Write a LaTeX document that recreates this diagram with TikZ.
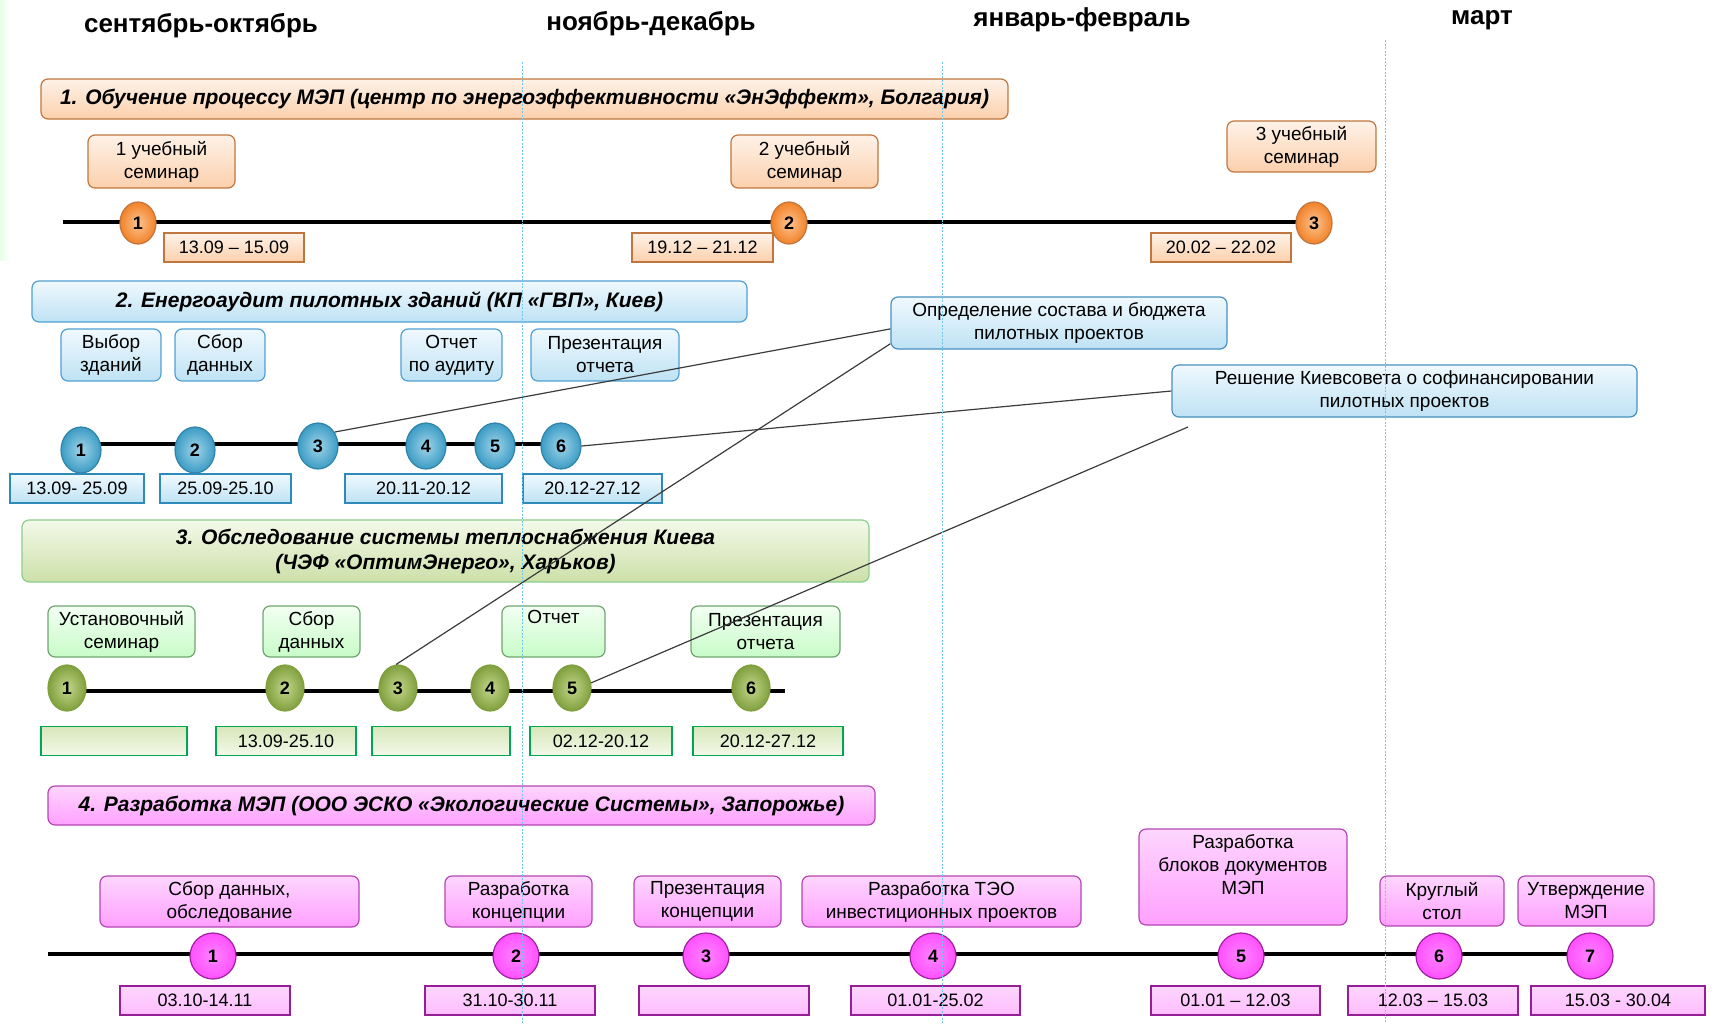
\documentclass[tikz,border=0pt]{standalone}
\usepackage{fontspec}
\setmainfont{Liberation Sans}
\usepackage{xcolor}
\usetikzlibrary{shapes.geometric}

\definecolor{orBord}{RGB}{192,118,62}
\definecolor{orTop}{RGB}{254,242,232}
\definecolor{orBot}{RGB}{251,208,172}
\definecolor{orBall}{RGB}{242,130,40}
\definecolor{orBallIn}{RGB}{252,196,146}
\definecolor{blBord}{RGB}{80,160,212}
\definecolor{blTop}{RGB}{240,249,254}
\definecolor{blBot}{RGB}{190,226,244}
\definecolor{blBall}{RGB}{60,156,196}
\definecolor{blBallIn}{RGB}{160,212,234}
\definecolor{blBallBord}{RGB}{48,132,170}
\definecolor{blDate}{RGB}{46,138,184}
\definecolor{grBord}{RGB}{140,206,140}
\definecolor{grTop}{RGB}{244,249,234}
\definecolor{grBot}{RGB}{204,224,168}
\definecolor{grBoxTop}{RGB}{242,255,242}
\definecolor{grBoxBot}{RGB}{200,252,200}
\definecolor{grBall}{RGB}{128,160,62}
\definecolor{grBallIn}{RGB}{196,214,140}
\definecolor{grDate}{RGB}{0,166,81}
\definecolor{mgBord}{RGB}{180,70,180}
\definecolor{mgTop}{RGB}{253,214,253}
\definecolor{mgBot}{RGB}{255,160,255}
\definecolor{mgBall}{RGB}{255,80,255}
\definecolor{mgBallBord}{RGB}{160,30,160}
\definecolor{mgDate}{RGB}{150,30,150}
\definecolor{gridLine}{RGB}{110,200,235}
\definecolor{linkLine}{RGB}{60,60,60}

\begin{document}
\begin{tikzpicture}[x=1pt, y=-1pt,
    month/.style={font=\bfseries\fontsize{26}{30}\selectfont},
    sz/.style 2 args={minimum width=#1, minimum height=#2},
    box/.style={draw, rounded corners=7pt, align=center, inner sep=0pt, line width=1.2pt,
                font=\fontsize{19}{23}\selectfont},
    title/.style={box, font=\bfseries\itshape\fontsize{21}{25}\selectfont},
    datebox/.style={draw, align=center, inner sep=0pt, line width=1.2pt,
                minimum height=29, font=\fontsize{18}{22}\selectfont},
    ball/.style={ellipse, draw, inner sep=0pt, line width=1.2pt, shading=radial,
                font=\bfseries\fontsize{18}{22}\selectfont},
    orange/.style={draw=orBord, top color=orTop, bottom color=orBot},
    blue/.style={draw=blBord, top color=blTop, bottom color=blBot},
    green/.style={draw=grBord, top color=grTop, bottom color=grBot},
    greenbox/.style={draw=grBord!80!black, top color=grBoxTop, bottom color=grBoxBot},
    greendate/.style={draw=grDate, top color=grBot!80, bottom color=grTop},
    pink/.style={draw=mgBord, top color=mgTop, bottom color=mgBot},
    pinkdate/.style={draw=mgDate, top color=mgTop, bottom color=mgBot!70},
    timeline/.style={line width=4.5pt, black},
    link/.style={linkLine, line width=1.2pt},
    monthline/.style={gridLine, line width=0.9pt, dash pattern=on 2pt off 1.5pt}
    ]
    \useasboundingbox (0,0) rectangle (1721,1023);
    \shade[left color=green!10, right color=white] (0,0) rectangle (10,260);

    \node[month] (m1) at (201,26) {сентябрь-октябрь};
    \node[month] (m2) at (651,24) {ноябрь-декабрь};
    \node[month] (m3) at (1082,20) {январь-февраль};
    \node[month] (m4) at (1482,20) {март};

    % timelines
    \coordinate (l1) at (63,222);
    \coordinate (l1e) at (1314,222);
    \coordinate (l2) at (62,444);
    \coordinate (l2e) at (561,444);
    \coordinate (l3) at (66,691);
    \coordinate (l3e) at (785,691);
    \coordinate (l4) at (48,954);
    \coordinate (l4e) at (1592,954);
    \draw[timeline] (l1) -- (l1e);
    \draw[timeline] (l2) -- (l2e);
    \draw[timeline] (l3) -- (l3e);
    \draw[timeline] (l4) -- (l4e);

    % 1
    \node[title, orange, sz={967}{40}] (t1) at (524.5,99)
        {1. Обучение процессу МЭП (центр по энергоэффективности «ЭнЭффект», Болгария)};
    \node[box, orange, sz={147}{53}] (s11) at (161.5,161.5) {1 учебный\\семинар};
    \node[box, orange, sz={147}{53}] (s12) at (804.5,161.5) {2 учебный\\семинар};
    \node[box, orange, sz={149}{51}] (s13) at (1301.5,146.5) {3 учебный\\семинар};
    \foreach \n/\x in {1/138, 2/789, 3/1314}
        \node[ball, draw=orBord, inner color=orBallIn, outer color=orBall, sz={36}{42}] (c1\n) at (\x,223) {\n};
    \node[datebox, orange, minimum width=140] (d11) at (234,247.5) {13.09 – 15.09};
    \node[datebox, orange, minimum width=141] (d12) at (702.5,247.5) {19.12 – 21.12};
    \node[datebox, orange, minimum width=140] (d13) at (1221,247.5) {20.02 – 22.02};

    % 2
    \node[title, blue, sz={715}{41}] (t2) at (389.5,301.5)
        {2. Енергоаудит пилотных зданий (КП «ГВП», Киев)};
    \node[box, blue, sz={100}{52}] (s21) at (111,355) {Выбор\\зданий};
    \node[box, blue, sz={90}{52}] (s22) at (220,355) {Сбор\\данных};
    \node[box, blue, sz={101}{52}] (s23) at (451.5,355) {Отчет\\по аудиту};
    \node[box, blue, sz={148}{52}] (s24) at (605,355) {Презентация\\отчета};
    \foreach \n/\x/\y in {1/81/450, 2/195/450, 3/318/446, 4/426/446, 5/495/446, 6/561/446}
        \node[ball, draw=blBallBord, inner color=blBallIn, outer color=blBall, sz={40}{46}] (c2\n) at (\x,\y) {\n};
    \node[datebox, blue, draw=blDate, minimum width=134] (d21) at (77,488.5) {13.09- 25.09};
    \node[datebox, blue, draw=blDate, minimum width=131] (d22) at (225.5,488.5) {25.09-25.10};
    \node[datebox, blue, draw=blDate, minimum width=157] (d23) at (423.5,488.5) {20.11-20.12};
    \node[datebox, blue, draw=blDate, minimum width=139] (d24) at (592.5,488.5) {20.12-27.12};

    \node[box, blue, draw=blBord!90!black, sz={336}{52}] (k1) at (1059,323)
        {Определение состава и бюджета\\пилотных проектов};
    \node[box, blue, draw=blBord!90!black, sz={465}{52}] (k2) at (1404.5,391)
        {Решение Киевсовета о софинансировании\\пилотных проектов};
    \coordinate (k2foot) at (1188,427);

    % 3
    \node[title, green, sz={847}{62}] (t3) at (445.5,551)
        {3. Обследование системы теплоснабжения Киева\\(ЧЭФ «ОптимЭнерго», Харьков)};
    \node[box, greenbox, sz={147}{51}] (s31) at (121.5,631.5) {Установочный\\семинар};
    \node[box, greenbox, sz={97}{51}] (s32) at (311.5,631.5) {Сбор\\данных};
    \node[box, greenbox, sz={103}{51}] (s33) at (553.5,631.5) {Отчет\\\strut};
    \node[box, greenbox, sz={149}{51}] (s34) at (765.5,631.5) {Презентация\\отчета};
    \foreach \n/\x in {1/67, 2/285, 3/398, 4/490, 5/572, 6/751}
        \node[ball, draw=grBall, inner color=grBallIn, outer color=grBall, sz={38}{46}] (c3\n) at (\x,688) {\n};
    \node[datebox, greendate, minimum width=146] (d31) at (114,741) {};
    \node[datebox, greendate, minimum width=140] (d32) at (286,741) {13.09-25.10};
    \node[datebox, greendate, minimum width=138] (d33) at (441,741) {};
    \node[datebox, greendate, minimum width=142] (d34) at (601,741) {02.12-20.12};
    \node[datebox, greendate, minimum width=150] (d35) at (768,741) {20.12-27.12};

    % 4
    \node[title, pink, sz={827}{39}] (t4) at (461.5,805.5)
        {4. Разработка МЭП (ООО ЭСКО «Экологические Системы», Запорожье)};
    \node[box, pink, sz={259}{51}] (s41) at (229.5,901.5) {Сбор данных,\\обследование};
    \node[box, pink, sz={147}{51}] (s42) at (518.5,901.5) {Разработка\\концепции};
    \node[box, pink, sz={147}{51}] (s43) at (707.5,901.5) {Презентация\\концепции};
    \node[box, pink, sz={279}{51}] (s44) at (941.5,901.5) {Разработка ТЭО\\инвестиционных проектов};
    \node[box, pink, sz={208}{96}] (s45) at (1243,877) {Разработка\\блоков документов\\МЭП\\[2pt]~};
    \node[box, pink, sz={124}{50}] (s46) at (1442,901) {Круглый\\стол};
    \node[box, pink, sz={136}{50}] (s47) at (1586,901) {Утверждение\\МЭП};
    \foreach \n/\x in {1/213, 2/516, 3/706, 4/933, 5/1241, 6/1439, 7/1590}
        \node[ball, draw=mgBallBord, inner color=mgBall!70, outer color=mgBall, sz={46}{46}] (c4\n) at (\x,956) {\n};
    \node[datebox, pinkdate, minimum width=170] (d41) at (205,1000.5) {03.10-14.11};
    \node[datebox, pinkdate, minimum width=170] (d42) at (510,1000.5) {31.10-30.11};
    \node[datebox, pinkdate, minimum width=170] (d43) at (724,1000.5) {};
    \node[datebox, pinkdate, minimum width=169] (d44) at (935.5,1000.5) {01.01-25.02};
    \node[datebox, pinkdate, minimum width=169] (d45) at (1235.5,1000.5) {01.01 – 12.03};
    \node[datebox, pinkdate, minimum width=170] (d46) at (1433,1000.5) {12.03 – 15.03};
    \node[datebox, pinkdate, minimum width=174] (d47) at (1618,1000.5) {15.03 - 30.04};

    % links
    \draw[link] (c23.40) -- (k1.182);
    \draw[link] (k1.187) -- (c33.95);
    \draw[link] (c26.east) -- (k2.west);
    \draw[link] (k2foot) -- (c35.15);

    % month borders
    \draw[monthline] (522,62) -- (522,1023);
    \draw[monthline] (942,62) -- (942,1023);
    \draw[monthline] (1385,40) -- (1385,1023);
\end{tikzpicture}
\end{document}
